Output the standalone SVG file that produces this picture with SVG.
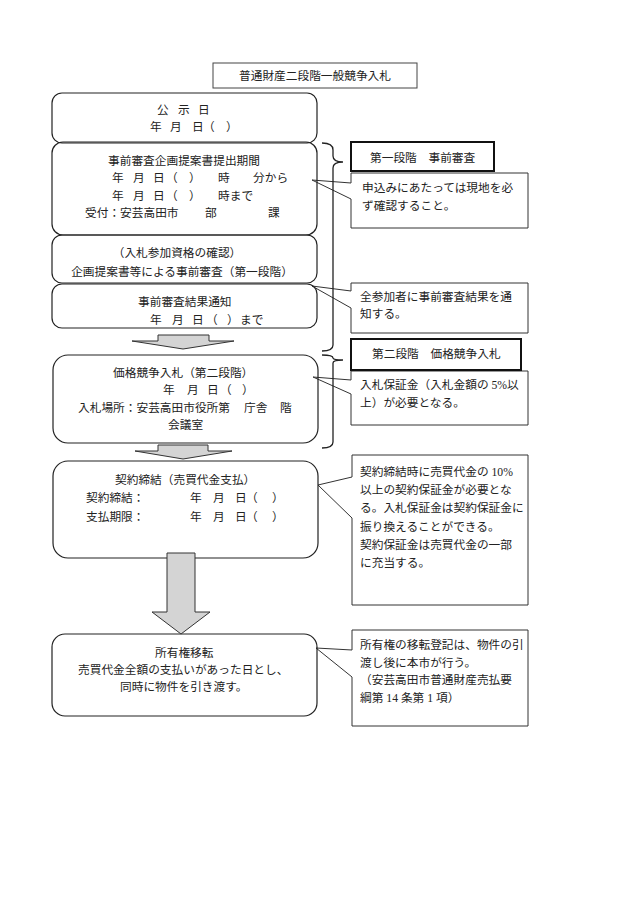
<svg xmlns="http://www.w3.org/2000/svg" width="630" height="903" viewBox="0 0 630 903">
<style>
text{font-family:"Liberation Serif","Noto Sans CJK JP",serif;font-size:11.7px;fill:#222}
.box{fill:none;stroke:#222;stroke-width:1.2}
.note{fill:#fff;stroke:#333;stroke-width:1}
.stage{fill:#fff;stroke:#111;stroke-width:2}
.arrow{fill:#d4d4d4;stroke:#333;stroke-width:1}
.brace{fill:none;stroke:#222;stroke-width:1.3}
.c{text-anchor:middle}
</style>
<rect width="630" height="903" fill="#fff"/>

<g id="title">
<rect x="213" y="63" width="204" height="25" fill="#fff" stroke="#444" stroke-width="1"/>
<text x="315" y="79.5" class="c">普通財産二段階一般競争入札</text>
</g>

<g id="note1">
<path class="note" d="M351,173 H528 V228 H351 V199 L312,180 L351,183 Z"/>
<text x="362" y="192">申込みにあたっては現地を必</text>
<text x="362" y="210">ず確認すること。</text>
</g>
<g id="note2">
<path class="note" d="M351,283 H528 V333 H351 V308 L312,286 L351,291 Z"/>
<text x="360" y="301">全参加者に事前審査結果を通</text>
<text x="360" y="318">知する。</text>
</g>
<g id="note3">
<path class="note" d="M351,371 H528 V425 H351 V394 L313,377 L351,380 Z"/>
<text x="360" y="389">入札保証金（入札金額の 5%以</text>
<text x="360" y="407">上）が必要となる。</text>
</g>
<g id="note4">
<path class="note" d="M352,455 H528 V605 H352 V518 L318,485 L352,477 Z"/>
<text x="360" y="476">契約締結時に売買代金の 10%</text>
<text x="360" y="494">以上の契約保証金が必要とな</text>
<text x="360" y="512">る。入札保証金は契約保証金に</text>
<text x="360" y="531">振り換えることができる。</text>
<text x="360" y="549">契約保証金は売買代金の一部</text>
<text x="360" y="567">に充当する。</text>
</g>
<g id="note5">
<path class="note" d="M352,630 H528 V726 H352 V677 L316,648 L352,650 Z"/>
<text x="360" y="649">所有権の移転登記は、物件の引</text>
<text x="360" y="667">渡し後に本市が行う。</text>
<text x="360" y="684">（安芸高田市普通財産売払要</text>
<text x="360" y="702">綱第 14 条第 1 項）</text>
</g>

<g id="stage1">
<rect class="stage" x="351" y="142" width="143" height="29"/>
<text x="370" y="162">第一段階　事前審査</text>
</g>
<g id="stage2">
<rect class="stage" x="351" y="339" width="170" height="31"/>
<text x="372" y="358">第二段階　価格競争入札</text>
</g>

<g id="box1">
<rect class="box" x="52" y="93" width="265" height="50" rx="10"/>
<text y="114"><tspan x="157">公</tspan><tspan x="178">示</tspan><tspan x="198">日</tspan></text>
<text y="131"><tspan x="150">年</tspan><tspan x="170">月</tspan><tspan x="192">日</tspan><tspan x="203">（</tspan><tspan x="226">）</tspan></text>
</g>
<g id="box2">
<rect class="box" x="52" y="142" width="265" height="93" rx="11"/>
<text x="108" y="165">事前審査企画提案書提出期間</text>
<text y="182"><tspan x="112">年</tspan><tspan x="133">月</tspan><tspan x="153">日</tspan><tspan x="166">（</tspan><tspan x="189">）</tspan><tspan x="218">時</tspan><tspan x="253">分から</tspan></text>
<text y="200"><tspan x="112">年</tspan><tspan x="133">月</tspan><tspan x="153">日</tspan><tspan x="166">（</tspan><tspan x="189">）</tspan><tspan x="218">時まで</tspan></text>
<text y="217"><tspan x="85">受付：安芸高田市</tspan><tspan x="205">部</tspan><tspan x="268">課</tspan></text>
</g>
<g id="box3">
<rect class="box" x="52" y="235" width="265" height="48" rx="10"/>
<text x="177" y="257" class="c">（入札参加資格の確認）</text>
<text x="182" y="276" class="c">企画提案書等による事前審査（第一段階）</text>
</g>
<g id="box4">
<rect class="box" x="52" y="284" width="265" height="44" rx="10"/>
<text x="138" y="306">事前審査結果通知</text>
<text y="324"><tspan x="150">年</tspan><tspan x="172">月</tspan><tspan x="192">日</tspan><tspan x="206">（</tspan><tspan x="227">）</tspan><tspan x="240">まで</tspan></text>
</g>
<g id="box5">
<rect class="box" x="53" y="355" width="265" height="88" rx="15"/>
<text x="113" y="377">価格競争入札（第二段階）</text>
<text y="394"><tspan x="163">年</tspan><tspan x="187">月</tspan><tspan x="207">日</tspan><tspan x="220">（</tspan><tspan x="242">）</tspan></text>
<text y="412"><tspan x="78">入札場所：安芸高田市役所第</tspan><tspan x="244">庁舎</tspan><tspan x="280">階</tspan></text>
<text x="168" y="429">会議室</text>
</g>
<g id="box6">
<rect class="box" x="53" y="461" width="265" height="97" rx="15"/>
<text x="115" y="484">契約締結（売買代金支払）</text>
<text y="502"><tspan x="86">契約締結：</tspan><tspan x="190">年</tspan><tspan x="213">月</tspan><tspan x="235">日</tspan><tspan x="246">（</tspan><tspan x="272">）</tspan></text>
<text y="521"><tspan x="86">支払期限：</tspan><tspan x="190">年</tspan><tspan x="213">月</tspan><tspan x="235">日</tspan><tspan x="246">（</tspan><tspan x="272">）</tspan></text>
</g>
<g id="box7">
<rect class="box" x="52" y="634" width="265" height="82" rx="13"/>
<text x="155" y="657">所有権移転</text>
<text x="78" y="674">売買代金全額の支払いがあった日とし、</text>
<text x="120" y="691">同時に物件を引き渡す。</text>
</g>

<g id="connectors">
<polygon class="arrow" points="158,335 209,335 209,341 234,341 183,349 132,341 158,341"/>
<polygon class="arrow" points="158,445 208,445 208,451 232,451 183,459 135,451 158,451"/>
<polygon class="arrow" points="167,553 195,553 195,612 210,612 181,634 152,612 167,612"/>
<path class="brace" d="M322,143 Q333,143 333,150 V156 Q333,162 343,162 Q333,162 333,168 V345 Q333,351 322,351"/>
<path class="brace" d="M322,355 Q333,355 333,358 Q333,360 343,360 Q333,360 333,363 V442 Q333,448 322,448"/>
</g>
</svg>
